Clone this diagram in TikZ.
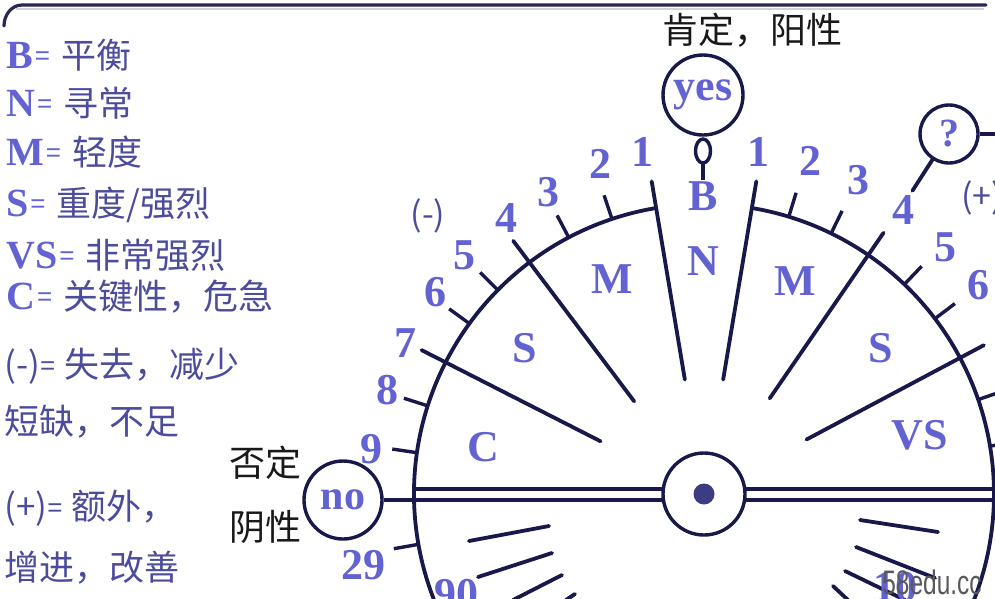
\documentclass[tikz,border=0pt]{standalone}
\usepackage{fontspec}
\setmainfont{Liberation Serif}
\newfontfamily\cjkf{Noto Sans CJK SC}
\newfontfamily\wmf{Liberation Sans}
\usetikzlibrary{calc}
\definecolor{ink}{RGB}{24,24,74}
\definecolor{decoc}{RGB}{98,98,210}
\definecolor{legc}{RGB}{76,76,156}
\definecolor{dotc}{RGB}{60,60,130}
\definecolor{framec}{RGB}{40,40,80}
\newcommand{\dl}[1]{{\rmfamily\bfseries\color{decoc}\fontsize{40}{40}\selectfont #1}}
\newcommand{\eqs}{\raisebox{4pt}{\wmf\color{decoc}\fontsize{26}{26}\selectfont =}}
\newcommand{\eqn}{\raisebox{3pt}{\wmf\fontsize{26}{26}\selectfont =}}
\begin{document}
\begin{tikzpicture}[x=1pt,y=1pt,
  wl/.style={draw=ink,line width=3.8pt,line cap=round},
  tk/.style={draw=ink,line width=3.4pt},
  num/.style={text=decoc,font=\rmfamily\bfseries\fontsize{44}{44}\selectfont,inner sep=0pt},
  sgn/.style={text=legc,font=\cjkf\fontsize{34}{34}\selectfont,inner sep=0pt},
  lg/.style={anchor=west,text=legc,font=\cjkf\fontsize{35}{40}\selectfont,inner sep=0pt},
  blk/.style={text=black!90,font=\cjkf\fontsize{36}{40}\selectfont,inner sep=0pt},
  ring/.style={draw=ink,line width=3.4pt,fill=white,circle,inner sep=0pt}]

\useasboundingbox (0,0) rectangle (995,-598);
\fill[white] (0,0) rectangle (995,-598);
\coordinate (C) at (704,-494);

% frame
\draw[gray!35,line width=2pt] (16,-9) -- (984,-9);
\draw[framec,line width=3.2pt,line cap=round] (4,-26) to[out=90,in=180] (22,-5) -- (986,-5);

% outer arcs
\draw[ink,line width=3.8pt] ($(C)+(99.5:290)$) arc[start angle=99.5,end angle=215,radius=290pt];
\draw[ink,line width=3.8pt] ($(C)+(80.5:290)$) arc[start angle=80.5,end angle=-30,radius=290pt];

% wedge lines
\foreach \a in {99.5,127,153,80.5,55.5,28}
  \draw[wl] ($(C)+(\a:116)$) -- ($(C)+(\a:317)$);

% ticks
\foreach \a in {108.5,117.8,135.3,144,162.3,171.8,190,73,64,46.3,37.2,19,9.5}
  \draw[tk] ($(C)+(\a:290)$) -- ($(C)+(\a:315)$);

% lower inner strokes
\draw[wl] (469,-541) -- (549,-526);
\draw[wl] (478,-577) -- (552,-553);
\draw[wl] (513,-600) -- (562,-575);
\draw[wl] (566,-600) -- (575,-594);
\draw[wl] (860,-520) -- (938,-532);
\draw[wl] (856,-547) -- (935,-578);
\draw[wl] (845,-571) -- (905,-600);
\draw[wl] (833,-586) -- (848,-600);

% no circle and horizontal double line
\node[ring,minimum size=78pt,text=decoc,font=\rmfamily\bfseries\fontsize{42}{42}\selectfont] (no) at (343,-500) {no};
\draw[tk] (414,-489) -- (995,-489);
\draw[tk] (no.east) -- (995,-500);

% hub
\node[ring,minimum size=82pt] (hub) at (C) {};
\fill[dotc] (C) circle[radius=10.5pt];

% yes circle
\node[ring,minimum size=80pt,text=decoc,font=\rmfamily\bfseries\fontsize{44}{44}\selectfont] (yes) at (703,-95) {yes};
\draw[ink,line width=3.4pt] (703,-151) ellipse[x radius=7.5pt,y radius=12pt];
\draw[tk] (703,-163) -- (703,-180);

% question circle
\node[ring,minimum size=58pt,text=decoc,font=\rmfamily\bfseries\fontsize{40}{40}\selectfont] (q) at (949,-134) {?};
\draw[wl] ($(C)+(55.5:368)$) -- (q);
\draw[tk] (q.east) -- (995,-134);

% outer numbers left
\node[num] (nl1) at (642,-152) {1};
\node[num] (nl2) at (600,-164) {2};
\node[num] (nl3) at (548,-192) {3};
\node[num] (nl4) at (506,-218) {4};
\node[num] (nl5) at (464,-255) {5};
\node[num] (nl6) at (435,-292) {6};
\node[num] (nl7) at (405,-343) {7};
\node[num] (nl8) at (387,-390) {8};
\node[num] (nl9) at (371,-449) {9};
\node[num] (nl29) at (363,-565) {29};
% outer numbers right
\node[num] (nr1) at (758,-152) {1};
\node[num] (nr2) at (810,-161) {2};
\node[num] (nr3) at (858,-180) {3};
\node[num] (nr4) at (903,-210) {4};
\node[num] (nr5) at (945,-247) {5};
\node[num] (nr6) at (978,-285) {6};
\node[num] (nr7) at (1004,-340) {7};
\node[sgn] (minus) at (428,-216) {(-)};
\node[sgn] (plus) at (982,-198) {(+)};

% inner letters
\node[num] (iB) at (703,-196) {B};
\node[num] (iN) at (703,-261) {N};
\node[num] (iML) at (612,-279) {M};
\node[num] (iMR) at (795,-281) {M};
\node[num] (iSL) at (525,-348) {S};
\node[num] (iSR) at (881,-348) {S};
\node[num] (iC) at (483,-447) {C};
\node[num] (iVS) at (920,-435) {VS};
\node[num] (i90) at (456,-594) {90};
\node[num] (i10) at (895,-587) {10};

% black labels
\node[blk] (pos) at (752,-30) {肯定，阳性};
\node[blk] (neg1) at (265,-463) {否定};
\node[blk] (neg2) at (265,-527) {阴性};

% legend
\node[lg] (l1) at (6,-55) {\dl{B}\hspace{2pt}\eqs\hspace{11pt}平衡};
\node[lg] (l2) at (6,-103) {\dl{N}\hspace{2pt}\eqs\hspace{11pt}寻常};
\node[lg] (l3) at (6,-152) {\dl{M}\hspace{2pt}\eqs\hspace{11pt}轻度};
\node[lg] (l4) at (6,-205) {\dl{S}\hspace{2pt}\eqs\hspace{11pt}重度/强烈};
\node[lg] (l5) at (6,-255) {\dl{VS}\hspace{2pt}\eqs\hspace{11pt}非常强烈};
\node[lg] (l6) at (6,-297) {\dl{C}\hspace{2pt}\eqs\hspace{11pt}关键性，危急};
\node[lg] (l7) at (4,-366) {(-)\eqn\hspace{9pt}失去，减少};
\node[lg] (l8) at (4,-422) {短缺，不足};
\node[lg] (l9) at (4,-508) {(+)\eqn\hspace{9pt}额外，};
\node[lg] (l10) at (4,-568) {增进，改善};

% watermark
\node[font=\wmf\fontsize{34}{34}\selectfont,text=black!65,xscale=0.72,inner sep=0pt] (wm) at (932,-582) {58edu.cc};
\end{tikzpicture}
\end{document}
